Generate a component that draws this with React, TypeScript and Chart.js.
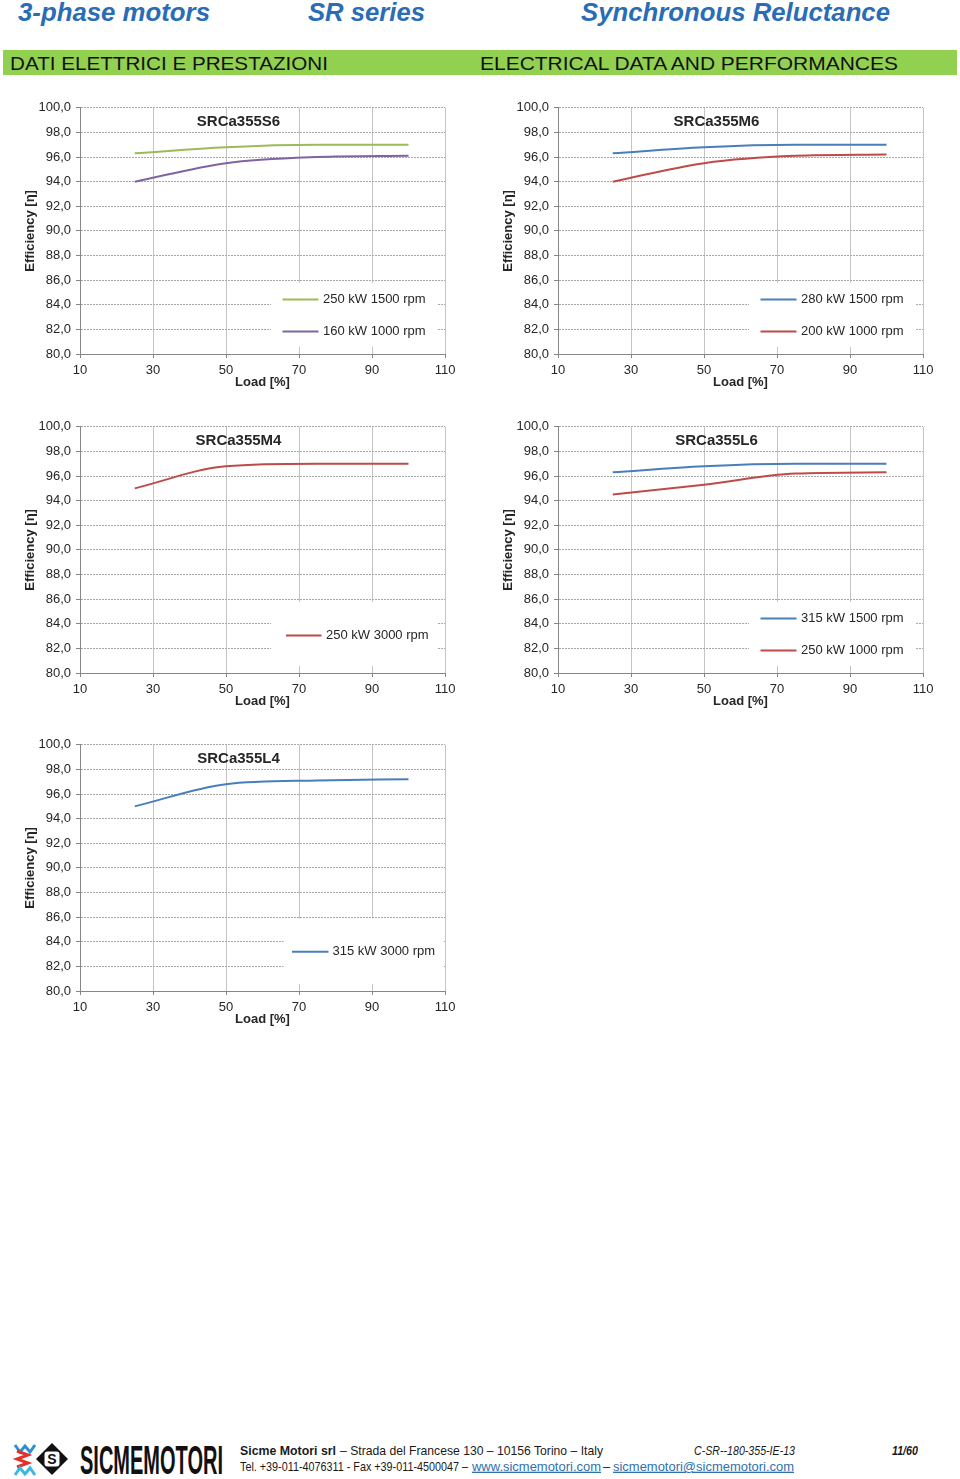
import React, { useEffect, useRef } from 'react';
import { Chart, registerables } from 'chart.js';

Chart.register(...registerables);

// ---------- DATA ----------
const loadPct = [25, 50, 75, 100];
const xTickValues = [10, 30, 50, 70, 90, 110];
const yTickValues = [80, 82, 84, 86, 88, 90, 92, 94, 96, 98, 100];

const s6Labels = ['250 kW 1500 rpm', '160 kW 1000 rpm'];
const s6Eff250kW1500 = [96.3, 96.8, 97.0, 97.0];
const s6Eff160kW1000 = [94.0, 95.5, 96.0, 96.1];

const m6Labels = ['280 kW 1500 rpm', '200 kW 1000 rpm'];
const m6Eff280kW1500 = [96.3, 96.8, 97.0, 97.0];
const m6Eff200kW1000 = [94.0, 95.5, 96.1, 96.2];

const m4Labels = ['250 kW 3000 rpm'];
const m4Eff250kW3000 = [95.0, 96.8, 97.0, 97.0];

const l6Labels = ['315 kW 1500 rpm', '250 kW 1000 rpm'];
const l6Eff315kW1500 = [96.3, 96.8, 97.0, 97.0];
const l6Eff250kW1000 = [94.5, 95.3, 96.2, 96.3];

const l4Labels = ['315 kW 3000 rpm'];
const l4Eff315kW3000 = [95.0, 96.8, 97.1, 97.2];

// ---------- STYLE ----------
const FONT = "Arial, 'Liberation Sans', Helvetica, sans-serif";
const TEXT = '#262626';
const GREEN = '#9bbb59';
const PURPLE = '#8064a2';
const BLUE = '#4a7ebb';
const RED = '#be4b48';

type Series = { label: string; values: number[]; color: string };
type Spec = {
  title: string;
  series: Series[];
  left: number;
  top: number;
  legend: { box: number[]; lineX: number[]; textX: number; rows: number[] };
};

const twoRowLegend = { box: [191, 175, 357, 239], lineX: [202.5, 238.5], textX: 243, rows: [191.7, 223.7] };

const specs: Spec[] = [
  {
    title: 'SRCa355S6',
    series: [
      { label: s6Labels[0], values: s6Eff250kW1500, color: GREEN },
      { label: s6Labels[1], values: s6Eff160kW1000, color: PURPLE },
    ],
    left: 0,
    top: 95,
    legend: twoRowLegend,
  },
  {
    title: 'SRCa355M6',
    series: [
      { label: m6Labels[0], values: m6Eff280kW1500, color: BLUE },
      { label: m6Labels[1], values: m6Eff200kW1000, color: RED },
    ],
    left: 478,
    top: 95,
    legend: twoRowLegend,
  },
  {
    title: 'SRCa355M4',
    series: [{ label: m4Labels[0], values: m4Eff250kW3000, color: RED }],
    left: 0,
    top: 414,
    legend: { box: [191, 175, 357, 239], lineX: [206, 241.5], textX: 246, rows: [208.6] },
  },
  {
    title: 'SRCa355L6',
    series: [
      { label: l6Labels[0], values: l6Eff315kW1500, color: BLUE },
      { label: l6Labels[1], values: l6Eff250kW1000, color: RED },
    ],
    left: 478,
    top: 414,
    legend: twoRowLegend,
  },
  {
    title: 'SRCa355L4',
    series: [{ label: l4Labels[0], values: l4Eff315kW3000, color: BLUE }],
    left: 0,
    top: 732,
    legend: { box: [203.5, 174, 364, 239], lineX: [212, 248.5], textX: 252.5, rows: [207] },
  },
];

const insideDecor = {
  id: 'insideDecor',
  afterDraw(chart: any, _args: any, opts: any) {
    const { ctx, chartArea: a } = chart;
    const lg = opts.legend;
    ctx.save();
    ctx.fillStyle = '#ffffff';
    ctx.fillRect(a.left + lg.box[0], a.top + lg.box[1], lg.box[2] - lg.box[0], lg.box[3] - lg.box[1]);
    chart.data.datasets.forEach((ds: any, i: number) => {
      const y = a.top + lg.rows[i];
      ctx.strokeStyle = ds.borderColor;
      ctx.lineWidth = 2;
      ctx.beginPath();
      ctx.moveTo(a.left + lg.lineX[0], y);
      ctx.lineTo(a.left + lg.lineX[1], y);
      ctx.stroke();
      ctx.fillStyle = TEXT;
      ctx.font = `13px ${FONT}`;
      ctx.textAlign = 'left';
      ctx.textBaseline = 'middle';
      ctx.fillText(ds.label, a.left + lg.textX, y);
    });
    ctx.fillStyle = TEXT;
    ctx.font = `bold 15px ${FONT}`;
    ctx.textAlign = 'center';
    ctx.textBaseline = 'middle';
    ctx.fillText(opts.title, a.left + 158.5, a.top + 14);
    ctx.restore();
  },
};

function EffChart({ spec }: { spec: Spec }) {
  const ref = useRef<HTMLCanvasElement | null>(null);
  useEffect(() => {
    if (!ref.current) return;
    const chart = new Chart(ref.current, {
      type: 'line',
      data: {
        datasets: spec.series.map((s) => ({
          label: s.label,
          data: loadPct.map((x, i) => ({ x, y: s.values[i] })),
          borderColor: s.color,
          backgroundColor: s.color,
          borderWidth: 2,
          pointRadius: 0,
          cubicInterpolationMode: 'monotone' as const,
          fill: false,
        })),
      },
      options: {
        animation: false,
        responsive: false,
        events: [],
        layout: { padding: { left: 0, right: 25, top: 12, bottom: 0 } },
        plugins: {
          legend: { display: false },
          tooltip: { enabled: false },
          insideDecor: { legend: spec.legend, title: spec.title },
        } as any,
        scales: {
          x: {
            type: 'linear',
            min: 10,
            max: 110,
            afterBuildTicks: (s: any) => {
              s.ticks = xTickValues.map((v) => ({ value: v }));
            },
            afterFit: (s: any) => {
              s.height = 41;
            },
            grid: { color: '#c4c4c4', lineWidth: 1, tickLength: 4, tickColor: '#868686' },
            border: { color: '#868686', width: 1 },
            ticks: {
              padding: 5,
              color: TEXT,
              font: { family: FONT, size: 13 },
              maxRotation: 0,
              autoSkip: false,
            },
            title: {
              display: true,
              text: 'Load [%]',
              color: TEXT,
              font: { family: FONT, size: 13, weight: 'bold' },
              padding: { top: 0, bottom: 5 },
            },
          },
          y: {
            type: 'linear',
            min: 80,
            max: 100,
            afterBuildTicks: (s: any) => {
              s.ticks = yTickValues.map((v) => ({ value: v }));
            },
            afterFit: (s: any) => {
              s.width = 80;
            },
            grid: { color: '#a8a8a8', lineWidth: 1, tickLength: 4, tickColor: '#868686', tickBorderDash: [] },
            border: { color: '#868686', width: 1, dash: [2, 1] },
            ticks: {
              padding: 5,
              color: TEXT,
              font: { family: FONT, size: 13 },
              autoSkip: false,
              callback: (v: any) => Number(v).toFixed(1).replace('.', ','),
            },
            title: {
              display: true,
              text: 'Efficiency [η]',
              color: TEXT,
              font: { family: FONT, size: 13, weight: 'bold' },
              padding: { top: 23, bottom: 0 },
            },
          },
        },
      },
      plugins: [insideDecor],
    } as any);
    return () => chart.destroy();
  }, [spec]);
  return (
    <canvas
      ref={ref}
      width={470}
      height={300}
      style={{ position: 'absolute', left: spec.left, top: spec.top, width: 470, height: 300 }}
    />
  );
}

function PageArt() {
  const blueHead = '#2a6db5';
  const link = '#2f70ad';
  return (
    <svg
      width={960}
      height={1479}
      style={{ position: 'absolute', left: 0, top: 0 }}
      fontFamily={FONT}
    >
      {/* header */}
      <text x={18} y={20.5} fontSize={25} fontWeight="bold" fontStyle="italic" fill={blueHead} textLength={192} lengthAdjust="spacingAndGlyphs">3-phase motors</text>
      <text x={308} y={20.5} fontSize={25} fontWeight="bold" fontStyle="italic" fill={blueHead} textLength={117} lengthAdjust="spacingAndGlyphs">SR series</text>
      <text x={581} y={20.5} fontSize={25} fontWeight="bold" fontStyle="italic" fill={blueHead} textLength={309} lengthAdjust="spacingAndGlyphs">Synchronous Reluctance</text>
      <rect x={3} y={50} width={954} height={25} fill="#92d050" />
      <text x={10} y={69.5} fontSize={19} fill="#111" textLength={318} lengthAdjust="spacingAndGlyphs">DATI ELETTRICI E PRESTAZIONI</text>
      <text x={480} y={69.5} fontSize={19} fill="#111" textLength={418} lengthAdjust="spacingAndGlyphs">ELECTRICAL DATA AND PERFORMANCES</text>

      {/* footer logo */}
      <polyline points="15,1445 20,1452 25,1446 30,1452 35,1445" fill="none" stroke="#2b8fd6" strokeWidth={3} />
      <polyline points="17,1451 28,1455 17,1459 28,1463 17,1467" fill="none" stroke="#e0312b" strokeWidth={3} />
      <polyline points="15,1475 20,1468 25,1474 30,1468 35,1475" fill="none" stroke="#3bb6e6" strokeWidth={3} />
      <polygon points="52,1443 68,1459 52,1475 36,1459" fill="#111" />
      <rect x={44.5} y={1451.5} width={15} height={15} rx={3} fill="#fff" />
      <text x={52} y={1464} fontSize={14} fontWeight="bold" fill="#111" textAnchor="middle">S</text>
      <text x={80} y={1474} fontSize={40} fontWeight="bold" fill="#111" textLength={143} lengthAdjust="spacingAndGlyphs">SICMEMOTORI</text>

      {/* footer text */}
      <text x={240} y={1455.3} fontSize={13} fontWeight="bold" fill="#1a1a1a" textLength={96} lengthAdjust="spacingAndGlyphs">Sicme Motori srl</text>
      <text x={340} y={1455.3} fontSize={13} fill="#1a1a1a" textLength={263} lengthAdjust="spacingAndGlyphs">– Strada del Francese 130 – 10156 Torino – Italy</text>
      <text x={694} y={1455.3} fontSize={12} fontStyle="italic" fill="#1a1a1a" textLength={101} lengthAdjust="spacingAndGlyphs">C-SR--180-355-IE-13</text>
      <text x={892} y={1455.3} fontSize={12} fontWeight="bold" fontStyle="italic" fill="#1a1a1a" textLength={26} lengthAdjust="spacingAndGlyphs">11/60</text>
      <text x={240} y={1470.7} fontSize={13} fill="#1a1a1a" textLength={228} lengthAdjust="spacingAndGlyphs">Tel. +39-011-4076311 - Fax +39-011-4500047 –</text>
      <text x={472} y={1470.7} fontSize={13} fill={link} textDecoration="underline" textLength={129} lengthAdjust="spacingAndGlyphs">www.sicmemotori.com</text>
      <text x={603} y={1470.7} fontSize={13} fill="#1a1a1a">–</text>
      <text x={613} y={1470.7} fontSize={13} fill={link} textDecoration="underline" textLength={181} lengthAdjust="spacingAndGlyphs">sicmemotori@sicmemotori.com</text>
    </svg>
  );
}

export default function App() {
  return (
    <div
      style={{
        position: 'absolute',
        left: 0,
        top: 0,
        width: 960,
        height: 1479,
        background: '#ffffff',
        overflow: 'hidden',
      }}
    >
      <PageArt />
      {specs.map((s) => (
        <EffChart key={s.title} spec={s} />
      ))}
    </div>
  );
}
